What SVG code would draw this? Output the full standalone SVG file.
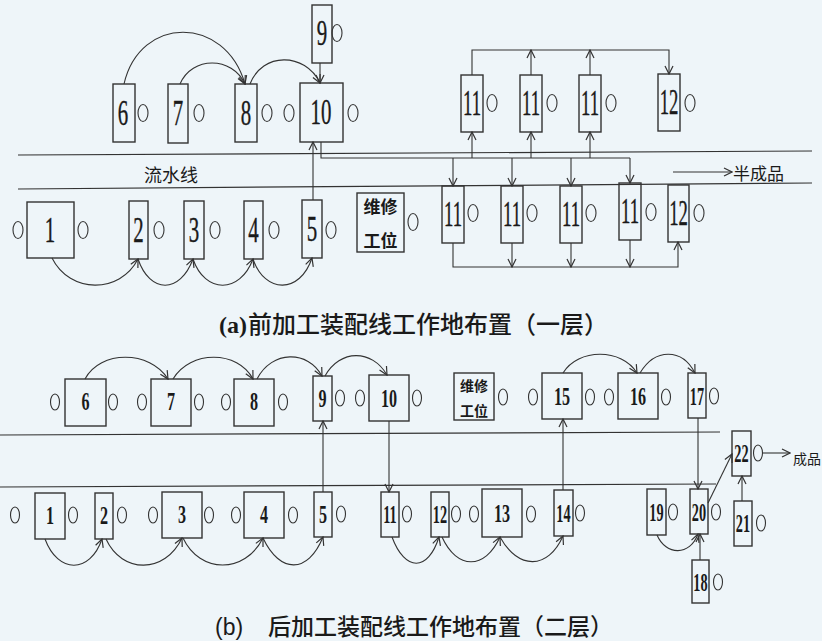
<svg xmlns="http://www.w3.org/2000/svg" width="822" height="641" viewBox="0 0 822 641">
<style>
.bx{fill:none;stroke:#333;stroke-width:1.4}
.o{fill:none;stroke:#333;stroke-width:1.1}
.ln{fill:none;stroke:#333;stroke-width:1.2}
.c{fill:none;stroke:#333;stroke-width:1.1}
.nt{font-family:"Liberation Serif",serif;font-size:36px;fill:#1a1a1a;text-anchor:middle;stroke:#1a1a1a;stroke-width:0.4}
.nb{font-family:"Liberation Serif",serif;font-size:26px;font-weight:bold;fill:#1a1a1a;text-anchor:middle}
.cj{font-family:"Liberation Serif","Noto Sans CJK SC",sans-serif;fill:#1a1a1a}
.wx{font-family:"Noto Sans CJK SC",sans-serif;font-weight:bold;fill:#1a1a1a;text-anchor:middle}
</style>
<defs>
<marker id="a" markerWidth="10" markerHeight="10" refX="9" refY="5" orient="auto" markerUnits="userSpaceOnUse">
<path d="M1,1 L9,5 L1,9" fill="none" stroke="#333" stroke-width="1.2"/>
</marker>
</defs>
<rect width="822" height="641" fill="#eef5f9"/>

<!-- conveyor lines -->
<g id="conveyors">
<line class="ln" x1="18" y1="155" x2="812" y2="151"/>
<line class="ln" x1="18" y1="189" x2="812" y2="183"/>
<line class="ln" x1="0" y1="435" x2="720" y2="432"/>
<line class="ln" x1="0" y1="487" x2="716" y2="484"/>
</g>

<g id="labels">
<text class="cj" x="144" y="182" font-size="18" font-family="Noto Sans CJK SC">流水线</text>
<text class="cj" x="733" y="180" font-size="17" font-family="Noto Sans CJK SC">半成品</text>
<text class="cj" x="793" y="464" font-size="14" font-family="Noto Sans CJK SC">成品</text>
<text class="cj" x="219" y="333" font-size="24"><tspan font-family="Liberation Serif" font-weight="bold">(a)</tspan><tspan x="248" font-family="Noto Sans CJK SC" font-weight="500">前加工装配线工作地布置（一层）</tspan></text>
<text class="cj" x="215" y="635" font-size="23"><tspan font-family="Liberation Sans">(b)</tspan><tspan x="268" font-family="Noto Sans CJK SC" font-weight="500">后加工装配线工作地布置（二层）</tspan></text>
</g>

<!-- ===== top section nodes ===== -->
<g id="a9"><rect class="bx" x="312" y="5" width="20" height="58"/><text class="nt" transform="translate(322,45) scale(0.58,1)">9</text><ellipse class="o" cx="337" cy="33" rx="5" ry="8.5"/></g>
<g id="a6"><rect class="bx" x="113" y="84" width="22" height="58"/><text class="nt" transform="translate(123,125) scale(0.58,1)">6</text><ellipse class="o" cx="143" cy="113" rx="5" ry="8.5"/></g>
<g id="a7"><rect class="bx" x="168" y="84" width="20" height="59"/><text class="nt" transform="translate(178,125) scale(0.58,1)">7</text><ellipse class="o" cx="199" cy="113" rx="5" ry="8.5"/></g>
<g id="a8"><rect class="bx" x="235" y="84" width="22" height="58"/><text class="nt" transform="translate(246,125) scale(0.58,1)">8</text><ellipse class="o" cx="267" cy="113" rx="5" ry="8.5"/><ellipse class="o" cx="289" cy="113" rx="5" ry="8.5"/></g>
<g id="a10"><rect class="bx" x="300" y="83" width="43" height="59"/><text class="nt" transform="translate(321,124) scale(0.58,1)">10</text><ellipse class="o" cx="353" cy="113" rx="5" ry="8.5"/></g>
<g id="a11a"><rect class="bx" x="461" y="75" width="22" height="57"/><text class="nt" transform="translate(472,115) scale(0.52,1)">11</text><ellipse class="o" cx="492" cy="103" rx="5" ry="8.5"/></g>
<g id="a11b"><rect class="bx" x="520" y="75" width="22" height="57"/><text class="nt" transform="translate(531,115) scale(0.52,1)">11</text><ellipse class="o" cx="552" cy="103" rx="5" ry="8.5"/></g>
<g id="a11c"><rect class="bx" x="579" y="75" width="22" height="57"/><text class="nt" transform="translate(590,115) scale(0.52,1)">11</text><ellipse class="o" cx="611" cy="103" rx="5" ry="8.5"/></g>
<g id="a12a"><rect class="bx" x="658" y="74" width="22" height="57"/><text class="nt" transform="translate(669,114) scale(0.52,1)">12</text><ellipse class="o" cx="690" cy="103" rx="5" ry="8.5"/></g>

<g id="a1"><rect class="bx" x="27" y="202" width="47" height="56"/><text class="nt" transform="translate(50,242) scale(0.58,1)">1</text><ellipse class="o" cx="18" cy="230" rx="5" ry="8.5"/><ellipse class="o" cx="83" cy="230" rx="5" ry="8.5"/></g>
<g id="a2"><rect class="bx" x="129" y="201" width="19" height="58"/><text class="nt" transform="translate(138.5,242) scale(0.58,1)">2</text><ellipse class="o" cx="159" cy="230" rx="5" ry="8.5"/></g>
<g id="a3"><rect class="bx" x="184" y="201" width="20" height="58"/><text class="nt" transform="translate(194,242) scale(0.58,1)">3</text><ellipse class="o" cx="215" cy="230" rx="5" ry="8.5"/></g>
<g id="a4"><rect class="bx" x="244" y="201" width="19" height="58"/><text class="nt" transform="translate(253.5,242) scale(0.58,1)">4</text><ellipse class="o" cx="274" cy="230" rx="5" ry="8.5"/></g>
<g id="a5"><rect class="bx" x="302" y="200" width="20" height="58"/><text class="nt" transform="translate(312,241) scale(0.58,1)">5</text><ellipse class="o" cx="331" cy="230" rx="5" ry="8.5"/></g>
<g id="aRepair"><rect class="bx" x="357" y="193" width="47" height="59"/><text class="wx" x="380.5" y="213" font-size="17">维修</text><text class="wx" x="380.5" y="247" font-size="17">工位</text><ellipse class="o" cx="413" cy="222" rx="5" ry="8.5"/></g>
<g id="a11d"><rect class="bx" x="442" y="186" width="22" height="57"/><text class="nt" transform="translate(453,226) scale(0.52,1)">11</text><ellipse class="o" cx="473" cy="213" rx="5" ry="8.5"/></g>
<g id="a11e"><rect class="bx" x="501" y="186" width="22" height="57"/><text class="nt" transform="translate(512,226) scale(0.52,1)">11</text><ellipse class="o" cx="532" cy="213" rx="5" ry="8.5"/></g>
<g id="a11f"><rect class="bx" x="560" y="186" width="22" height="57"/><text class="nt" transform="translate(571,226) scale(0.52,1)">11</text><ellipse class="o" cx="591" cy="213" rx="5" ry="8.5"/></g>
<g id="a11g"><rect class="bx" x="619" y="183" width="22" height="57"/><text class="nt" transform="translate(630,223) scale(0.52,1)">11</text><ellipse class="o" cx="651" cy="212" rx="5" ry="8.5"/></g>
<g id="a12b"><rect class="bx" x="668" y="185" width="21" height="57"/><text class="nt" transform="translate(678.5,225) scale(0.52,1)">12</text><ellipse class="o" cx="699" cy="213" rx="5" ry="8.5"/></g>

<!-- ===== bottom section nodes ===== -->
<g id="b6"><rect class="bx" x="65" y="379" width="41" height="47"/><text class="nb" transform="translate(85.5,410) scale(0.62,1)">6</text><ellipse class="o" cx="55" cy="402" rx="4.5" ry="8"/><ellipse class="o" cx="113" cy="402" rx="4.5" ry="8"/></g>
<g id="b7"><rect class="bx" x="151" y="379" width="40" height="47"/><text class="nb" transform="translate(171,410) scale(0.62,1)">7</text><ellipse class="o" cx="142" cy="402" rx="4.5" ry="8"/><ellipse class="o" cx="199" cy="402" rx="4.5" ry="8"/></g>
<g id="b8"><rect class="bx" x="234" y="379" width="40" height="47"/><text class="nb" transform="translate(254,410) scale(0.62,1)">8</text><ellipse class="o" cx="226" cy="402" rx="4.5" ry="8"/><ellipse class="o" cx="283" cy="402" rx="4.5" ry="8"/></g>
<g id="b9"><rect class="bx" x="313" y="376" width="19" height="45"/><text class="nb" transform="translate(322.5,407) scale(0.62,1)">9</text><ellipse class="o" cx="340" cy="398" rx="4.5" ry="8"/></g>
<g id="b10"><rect class="bx" x="369" y="375" width="40" height="46"/><text class="nb" transform="translate(389,407) scale(0.62,1)">10</text><ellipse class="o" cx="360" cy="398" rx="4.5" ry="8"/><ellipse class="o" cx="417" cy="398" rx="4.5" ry="8"/></g>
<g id="bRepair"><rect class="bx" x="454" y="373" width="40" height="47"/><text class="wx" x="474" y="391" font-size="14">维修</text><text class="wx" x="474" y="416" font-size="14">工位</text><ellipse class="o" cx="503" cy="397" rx="4.5" ry="8"/></g>
<g id="b15"><rect class="bx" x="542" y="373" width="40" height="46"/><text class="nb" transform="translate(562,405) scale(0.62,1)">15</text><ellipse class="o" cx="533" cy="397" rx="4.5" ry="8"/><ellipse class="o" cx="590" cy="397" rx="4.5" ry="8"/></g>
<g id="b16"><rect class="bx" x="618" y="373" width="40" height="46"/><text class="nb" transform="translate(638,405) scale(0.62,1)">16</text><ellipse class="o" cx="609" cy="397" rx="4.5" ry="8"/><ellipse class="o" cx="666" cy="397" rx="4.5" ry="8"/></g>
<g id="b17"><rect class="bx" x="688" y="373" width="18" height="45"/><text class="nb" transform="translate(697,405) scale(0.55,1)">17</text><ellipse class="o" cx="714" cy="396" rx="4.5" ry="8"/></g>

<g id="b1"><rect class="bx" x="35" y="493" width="30" height="46"/><text class="nb" transform="translate(50,524) scale(0.62,1)">1</text><ellipse class="o" cx="15" cy="515" rx="4.5" ry="8"/><ellipse class="o" cx="73" cy="515" rx="4.5" ry="8"/></g>
<g id="b2"><rect class="bx" x="95" y="493" width="18" height="46"/><text class="nb" transform="translate(104,524) scale(0.62,1)">2</text><ellipse class="o" cx="122" cy="515" rx="4.5" ry="8"/></g>
<g id="b3"><rect class="bx" x="162" y="492" width="40" height="46"/><text class="nb" transform="translate(182,523) scale(0.62,1)">3</text><ellipse class="o" cx="153" cy="515" rx="4.5" ry="8"/><ellipse class="o" cx="209" cy="515" rx="4.5" ry="8"/></g>
<g id="b4"><rect class="bx" x="244" y="492" width="40" height="46"/><text class="nb" transform="translate(264,523) scale(0.62,1)">4</text><ellipse class="o" cx="236" cy="515" rx="4.5" ry="8"/><ellipse class="o" cx="293" cy="515" rx="4.5" ry="8"/></g>
<g id="b5"><rect class="bx" x="314" y="492" width="18" height="45"/><text class="nb" transform="translate(323,523) scale(0.62,1)">5</text><ellipse class="o" cx="341" cy="514" rx="4.5" ry="8"/></g>
<g id="b11"><rect class="bx" x="381" y="492" width="18" height="45"/><text class="nb" transform="translate(390,523) scale(0.55,1)">11</text><ellipse class="o" cx="407" cy="514" rx="4.5" ry="8"/></g>
<g id="b12"><rect class="bx" x="431" y="492" width="18" height="45"/><text class="nb" transform="translate(440,523) scale(0.55,1)">12</text><ellipse class="o" cx="456" cy="514" rx="4.5" ry="8"/><ellipse class="o" cx="474" cy="514" rx="4.5" ry="8"/></g>
<g id="b13"><rect class="bx" x="482" y="489" width="40" height="48"/><text class="nb" transform="translate(502,522) scale(0.62,1)">13</text><ellipse class="o" cx="531" cy="514" rx="4.5" ry="8"/></g>
<g id="b14"><rect class="bx" x="554" y="490" width="19" height="46"/><text class="nb" transform="translate(563.5,522) scale(0.55,1)">14</text><ellipse class="o" cx="580" cy="513" rx="4.5" ry="8"/></g>
<g id="b19"><rect class="bx" x="647" y="489" width="19" height="46"/><text class="nb" transform="translate(656.5,521) scale(0.55,1)">19</text><ellipse class="o" cx="673" cy="512" rx="4.5" ry="8"/></g>
<g id="b20"><rect class="bx" x="690" y="489" width="18" height="45"/><text class="nb" transform="translate(699,521) scale(0.55,1)">20</text><ellipse class="o" cx="716" cy="512" rx="4.5" ry="8"/></g>
<g id="b18"><rect class="bx" x="692" y="560" width="17" height="43"/><text class="nb" transform="translate(700.5,591) scale(0.55,1)">18</text><ellipse class="o" cx="718" cy="582" rx="4.5" ry="8"/></g>
<g id="b22"><rect class="bx" x="732" y="431" width="19" height="45"/><text class="nb" transform="translate(741.5,462) scale(0.55,1)">22</text><ellipse class="o" cx="758" cy="453" rx="4.5" ry="8"/></g>
<g id="b21"><rect class="bx" x="734" y="501" width="18" height="45"/><text class="nb" transform="translate(743,532) scale(0.55,1)">21</text><ellipse class="o" cx="761" cy="523" rx="4.5" ry="8"/></g>

<!-- ===== connectors ===== -->
<g id="connectors">
<!-- top section -->
<path class="c" d="M124,84 C140,15 225,15 245,84" marker-end="url(#a)"/>
<path class="c" d="M180,84 C192,56 232,56 245,84" marker-end="url(#a)"/>
<path class="c" d="M250,84 C262,52 305,52 320,83" marker-end="url(#a)"/>
<path class="c" d="M320,63 L320,83" marker-end="url(#a)"/>
<path class="c" d="M313,200 L313,142" marker-end="url(#a)"/>
<path class="c" d="M52,258 C70,294 120,294 138,259" marker-end="url(#a)"/>
<path class="c" d="M138,259 C150,294 180,294 193,259" marker-end="url(#a)"/>
<path class="c" d="M193,259 C205,294 240,294 253,259" marker-end="url(#a)"/>
<path class="c" d="M253,259 C265,294 300,294 312,258" marker-end="url(#a)"/>
<path class="c" d="M321,142 L321,158 L630,158"/>
<path class="c" d="M472,158 L472,132" marker-end="url(#a)"/>
<path class="c" d="M531,158 L531,132" marker-end="url(#a)"/>
<path class="c" d="M590,158 L590,132" marker-end="url(#a)"/>
<path class="c" d="M453,158 L453,186" marker-end="url(#a)"/>
<path class="c" d="M512,158 L512,186" marker-end="url(#a)"/>
<path class="c" d="M571,158 L571,186" marker-end="url(#a)"/>
<path class="c" d="M630,158 L630,183" marker-end="url(#a)"/>
<path class="c" d="M472,75 L472,50 L669,50 L669,74" marker-end="url(#a)"/>
<path class="c" d="M531,75 L531,50" marker-end="url(#a)"/>
<path class="c" d="M590,75 L590,50" marker-end="url(#a)"/>
<path class="c" d="M453,243 L453,267 L678,267 L678,242" marker-end="url(#a)"/>
<path class="c" d="M512,243 L512,267" marker-end="url(#a)"/>
<path class="c" d="M571,243 L571,267" marker-end="url(#a)"/>
<path class="c" d="M630,240 L630,267" marker-end="url(#a)"/>
<path class="c" d="M673,172 L732,172" marker-end="url(#a)"/>
<!-- bottom section -->
<path class="c" d="M85,379 C100,350 150,350 168,379" marker-end="url(#a)"/>
<path class="c" d="M173,379 C190,350 238,350 253,379" marker-end="url(#a)"/>
<path class="c" d="M257,379 C272,350 308,350 322,376" marker-end="url(#a)"/>
<path class="c" d="M325,376 C340,349 372,349 387,375" marker-end="url(#a)"/>
<path class="c" d="M563,373 C578,348 622,348 637,373" marker-end="url(#a)"/>
<path class="c" d="M640,373 C655,348 682,348 695,373" marker-end="url(#a)"/>
<path class="c" d="M323,492 L323,421" marker-end="url(#a)"/>
<path class="c" d="M389,421 L389,492" marker-end="url(#a)"/>
<path class="c" d="M563,490 L563,419" marker-end="url(#a)"/>
<path class="c" d="M698,418 L698,489" marker-end="url(#a)"/>
<path class="c" d="M45,539 C58,574 90,574 102,539" marker-end="url(#a)"/>
<path class="c" d="M106,539 C122,574 165,574 182,538" marker-end="url(#a)"/>
<path class="c" d="M183,538 C200,574 245,574 263,538" marker-end="url(#a)"/>
<path class="c" d="M263,538 C280,574 308,574 323,537" marker-end="url(#a)"/>
<path class="c" d="M392,537 C405,572 428,572 439,537" marker-end="url(#a)"/>
<path class="c" d="M442,537 C457,570 485,570 500,537" marker-end="url(#a)"/>
<path class="c" d="M500,537 C518,570 548,570 563,536" marker-end="url(#a)"/>
<path class="c" d="M657,535 C666,556 690,556 698,534" marker-end="url(#a)"/>
<path class="c" d="M700,560 L700,534" marker-end="url(#a)"/>
<path class="c" d="M708,503 L732,454" marker-end="url(#a)"/>
<path class="c" d="M742,501 L742,476" marker-end="url(#a)"/>
<path class="c" d="M763,453 L790,453" marker-end="url(#a)"/>
</g>
</svg>
